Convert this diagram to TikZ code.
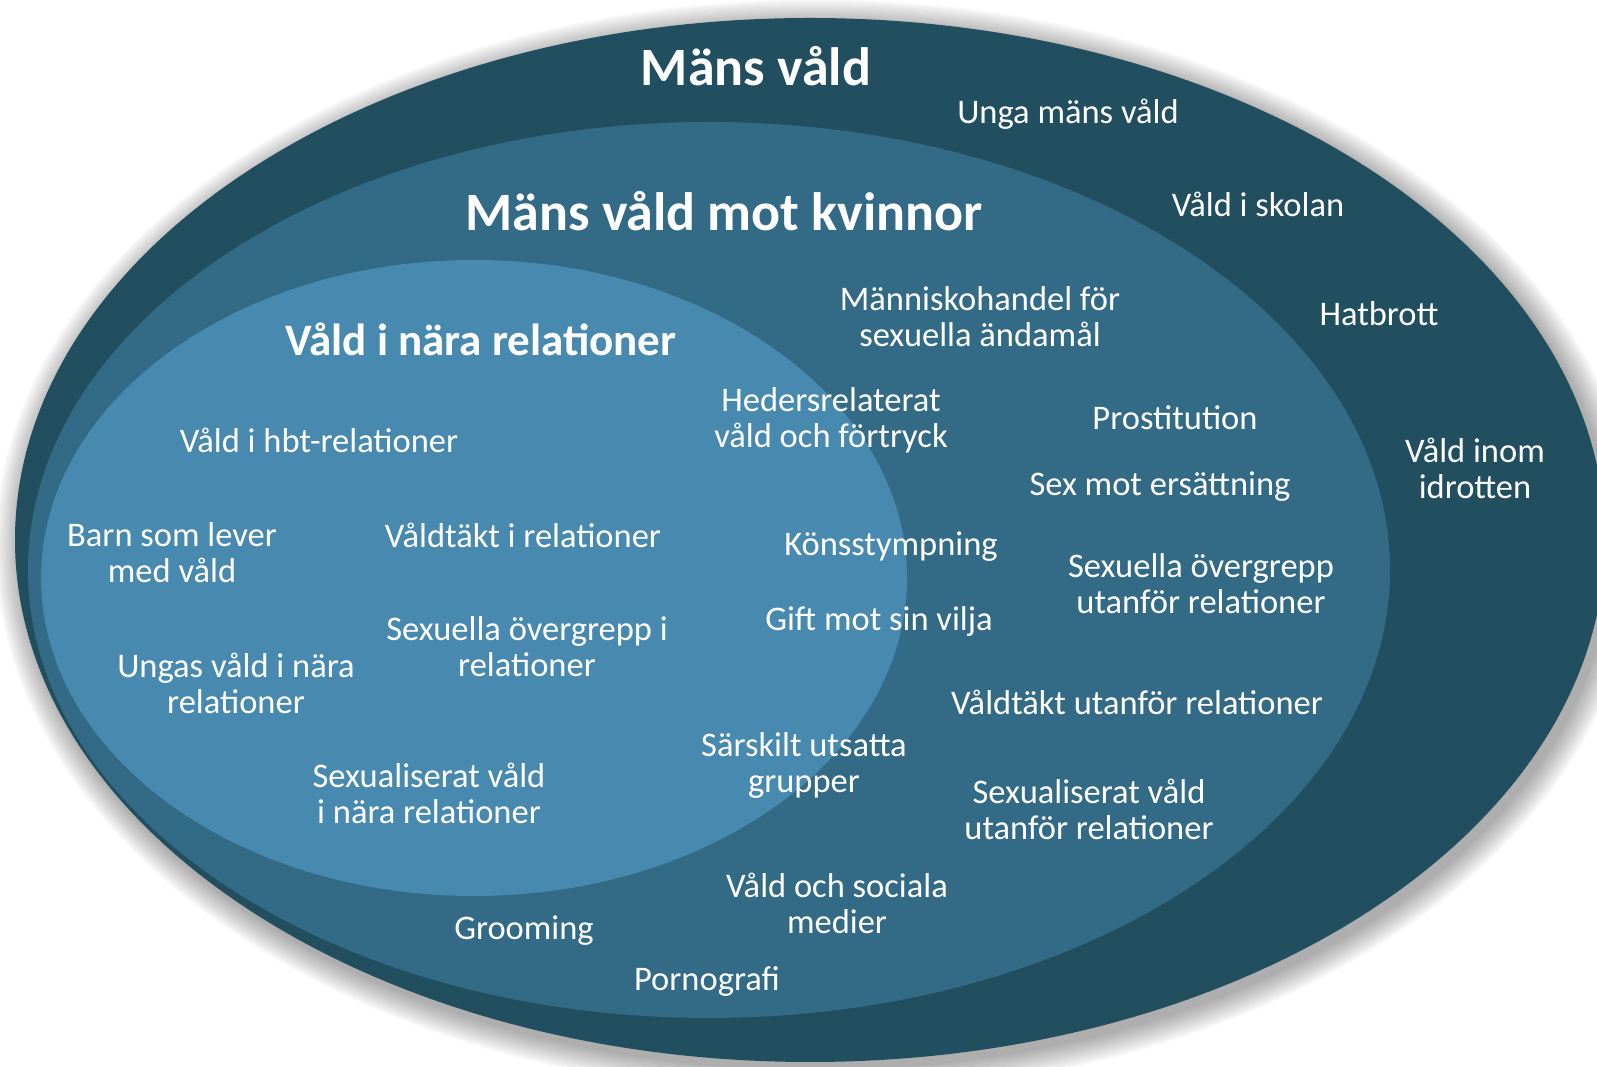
\documentclass[tikz,border=0pt]{standalone}
\usepackage{fontspec}
\setmainfont{Carlito}
\usepackage{tikz}
\usetikzlibrary{positioning}
\definecolor{RingDark}{RGB}{33,79,96}
\definecolor{RingMid}{RGB}{51,106,134}
\definecolor{RingLight}{RGB}{72,137,176}

\begin{document}
\begin{tikzpicture}[x=1pt,y=1pt,
    item/.style={text=white,align=center,inner sep=0pt,
      font=\fontsize{34.5}{36}\selectfont},
    head/.style={text=white,align=center,inner sep=0pt,
      font=\fontsize{54}{60}\selectfont\bfseries},
    subhead/.style={head,font=\fontsize{45}{50}\selectfont\bfseries}]
  \useasboundingbox (0,0) rectangle (1597,1067);
  % soft glow round the outer ring
  \foreach \g in {1,...,12}
    \fill[black,opacity=0.03] (816,520) ellipse ({794+2.2*\g} and {521+2.2*\g});
  \fill[RingDark] (810,527) ellipse (795 and 522);
  \fill[RingMid] (709,497) ellipse (681 and 448);
  \fill[RingLight] (474,489) ellipse (433 and 318);

  % outer ring
  \node[head] (mv) at (756,1001) {Mäns våld};
  \node[item] (unga) at (1068,953) {Unga mäns våld};
  \node[item] (skola) at (1258,863) {Våld i skolan};
  \node[item] (hat) at (1379,753) {Hatbrott};
  \node[item] (idrott) at (1475,599) {Våld inom\\idrotten};

  % middle ring
  \node[head] (mvk) at (724,856) {Mäns våld mot kvinnor};
  \node[item] (handel) at (980,750) {Människohandel för\\sexuella ändamål};
  \node[item] (heder) at (831,647) {Hedersrelaterat\\våld och förtryck};
  \node[item] (prost) at (1175,649) {Prostitution};
  \node[item] (sexmot) at (1160,580) {Sex mot ersättning};
  \node[item] (kons) at (891,520) {Könsstympning};
  \node[item] (overutan) at (1201,483) {Sexuella övergrepp\\utanför relationer};
  \node[item] (gift) at (879,446) {Gift mot sin vilja};
  \node[item] (valdutan) at (1137,365) {Våldtäkt utanför relationer};
  \node[item] (sarskilt) at (804,302) {Särskilt utsatta\\grupper};
  \node[item] (sexutan) at (1089,258) {Sexualiserat våld\\utanför relationer};
  \node[item] (medier) at (837,164) {Våld och sociala\\medier};
  \node[item] (groom) at (524,136) {Grooming};
  \node[item] (porr) at (707,85) {Pornografi};

  % inner ring
  \node[subhead] (vnr) at (481,728) {Våld i nära relationer};
  \node[item] (hbt) at (319,627) {Våld i hbt-relationer};
  \node[item] (barn) at (172,514) {Barn som lever\\med våld};
  \node[item] (valdrel) at (523,532) {Våldtäkt i relationer};
  \node[item] (overrel) at (527,420) {Sexuella övergrepp i\\relationer};
  \node[item] (ungas) at (236,384) {Ungas våld i nära\\relationer};
  \node[item] (sexrel) at (429,274) {Sexualiserat våld\\i nära relationer};
\end{tikzpicture}
\end{document}
